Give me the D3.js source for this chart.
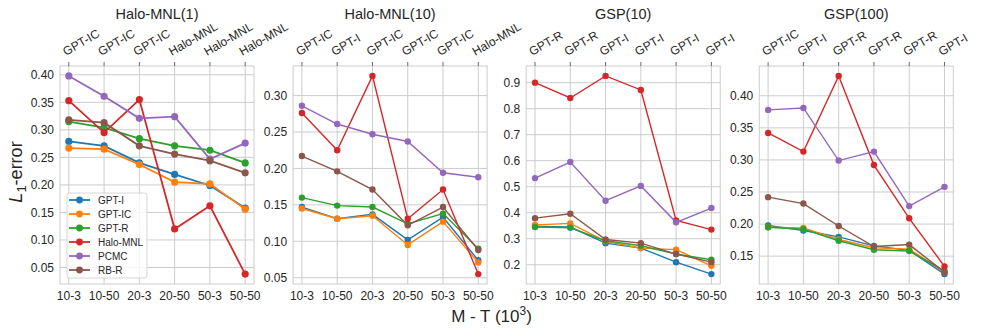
<!DOCTYPE html>
<meta charset="utf-8">
<html>
  <head>
    <script src="https://cdn.jsdelivr.net/npm/d3@7"></script>
    <style>
      body { margin: 0; background: #fff; }
      text { font-family: "Liberation Sans", Arial, sans-serif; fill: #262626; }
    </style>
  </head>
  <body>
    <div id="chart"></div>

    <script type="text/javascript">
      var categories = ["10-3", "10-50", "20-3", "20-50", "50-3", "50-50"],
          methods = ["GPT-I", "GPT-IC", "GPT-R", "Halo-MNL", "PCMC", "RB-R"],
          colors = ["#1f77b4", "#ff7f0e", "#2ca02c", "#d62728", "#9467bd", "#8c564b"],
          titles = ["Halo-MNL(1)", "Halo-MNL(10)", "GSP(10)", "GSP(100)"];

      // best model per column, shown on the top axis
      var topHalo1 = ["GPT-IC", "GPT-IC", "GPT-IC", "Halo-MNL", "Halo-MNL", "Halo-MNL"],
          topHalo10 = ["GPT-IC", "GPT-I", "GPT-IC", "GPT-IC", "GPT-IC", "Halo-MNL"],
          topGsp10 = ["GPT-R", "GPT-R", "GPT-I", "GPT-I", "GPT-I", "GPT-I"],
          topGsp100 = ["GPT-IC", "GPT-I", "GPT-R", "GPT-R", "GPT-R", "GPT-I"];

      // rows follow "methods"
      var halo1 = [
        [0.279, 0.271, 0.240, 0.219, 0.199, 0.158],
        [0.267, 0.265, 0.237, 0.205, 0.202, 0.156],
        [0.315, 0.304, 0.284, 0.271, 0.263, 0.240],
        [0.353, 0.295, 0.355, 0.120, 0.162, 0.038],
        [0.398, 0.361, 0.321, 0.324, 0.247, 0.276],
        [0.318, 0.313, 0.271, 0.256, 0.244, 0.222]
      ];
      var halo10 = [
        [0.147, 0.131, 0.137, 0.102, 0.133, 0.074],
        [0.145, 0.131, 0.135, 0.095, 0.127, 0.071],
        [0.160, 0.149, 0.147, 0.124, 0.138, 0.090],
        [0.276, 0.225, 0.327, 0.131, 0.171, 0.055],
        [0.286, 0.261, 0.247, 0.237, 0.194, 0.188],
        [0.217, 0.196, 0.171, 0.122, 0.147, 0.088]
      ];
      var gsp10 = [
        [0.347, 0.345, 0.283, 0.264, 0.210, 0.164],
        [0.353, 0.359, 0.290, 0.264, 0.258, 0.196],
        [0.345, 0.342, 0.292, 0.273, 0.241, 0.219],
        [0.900, 0.841, 0.926, 0.872, 0.370, 0.335],
        [0.533, 0.595, 0.446, 0.503, 0.363, 0.418],
        [0.379, 0.396, 0.297, 0.283, 0.241, 0.210]
      ];
      var gsp100 = [
        [0.198, 0.190, 0.180, 0.166, 0.159, 0.122],
        [0.195, 0.194, 0.176, 0.163, 0.161, 0.125],
        [0.195, 0.192, 0.174, 0.160, 0.158, 0.127],
        [0.342, 0.313, 0.431, 0.292, 0.209, 0.134],
        [0.378, 0.381, 0.299, 0.313, 0.228, 0.258],
        [0.242, 0.232, 0.197, 0.165, 0.168, 0.125]
      ];

      var ticksHalo1 = [0.05, 0.10, 0.15, 0.20, 0.25, 0.30, 0.35, 0.40],
          ticksHalo10 = [0.05, 0.10, 0.15, 0.20, 0.25, 0.30],
          ticksGsp10 = [0.2, 0.3, 0.4, 0.5, 0.6, 0.7, 0.8, 0.9],
          ticksGsp100 = [0.15, 0.20, 0.25, 0.30, 0.35, 0.40];

      var panels = [
        { title: titles[0], data: halo1, top: topHalo1, ticks: ticksHalo1, fmt: ".2f", lw: 1.8, r: 3.6 },
        { title: titles[1], data: halo10, top: topHalo10, ticks: ticksHalo10, fmt: ".2f", lw: 1.4, r: 3.2 },
        { title: titles[2], data: gsp10, top: topGsp10, ticks: ticksGsp10, fmt: ".1f", lw: 1.4, r: 3.2 },
        { title: titles[3], data: gsp100, top: topGsp100, ticks: ticksGsp100, fmt: ".2f", lw: 1.4, r: 3.2 }
      ];

      var W = 983, H = 335,
          plotTop = 66, plotBottom = 284,
          plotW = 194, firstLeft = 60, step = 233.1;

      var svg = d3.select("#chart").append("svg")
          .attr("width", W)
          .attr("height", H);

      panels.forEach(function(p, pi){
        var left = firstLeft + pi * step;
        var g = svg.append("g").attr("transform", "translate(" + left + ",0)");

        var x = d3.scaleLinear().domain([-0.25, 5.25]).range([0, plotW]);
        var all = d3.merge(p.data);
        var ext = d3.extent(all), pad = (ext[1] - ext[0]) * 0.05;
        var y = d3.scaleLinear().domain([ext[0] - pad, ext[1] + pad]).range([plotBottom, plotTop]);

        // grid
        g.selectAll(".vgrid").data(categories).enter().append("line")
            .attr("x1", function(d, i){ return x(i); })
            .attr("x2", function(d, i){ return x(i); })
            .attr("y1", plotTop).attr("y2", plotBottom)
            .style("stroke", "#cccccc").style("stroke-width", 1);
        g.selectAll(".hgrid").data(p.ticks).enter().append("line")
            .attr("x1", 0).attr("x2", plotW)
            .attr("y1", function(d){ return y(d); })
            .attr("y2", function(d){ return y(d); })
            .style("stroke", "#cccccc").style("stroke-width", 1);

        g.append("rect")
            .attr("x", 0).attr("y", plotTop)
            .attr("width", plotW).attr("height", plotBottom - plotTop)
            .style("fill", "none").style("stroke", "#cccccc").style("stroke-width", 1);

        // y tick labels
        g.selectAll(".ylab").data(p.ticks).enter().append("text")
            .attr("x", -6)
            .attr("y", function(d){ return y(d); })
            .attr("dy", "0.35em")
            .style("text-anchor", "end")
            .style("font-size", "12px")
            .text(function(d){ return d3.format(p.fmt)(d); });

        // bottom tick labels
        g.selectAll(".xlab").data(categories).enter().append("text")
            .attr("x", function(d, i){ return x(i); })
            .attr("y", plotBottom + 16)
            .style("text-anchor", "middle")
            .style("font-size", "12px")
            .text(function(d){ return d; });

        // top ticks and rotated labels
        g.selectAll(".ttick").data(p.top).enter().append("line")
            .attr("x1", function(d, i){ return x(i); })
            .attr("x2", function(d, i){ return x(i); })
            .attr("y1", plotTop - 4).attr("y2", plotTop)
            .style("stroke", "#444").style("stroke-width", 0.8);
        g.selectAll(".tlab").data(p.top).enter().append("text")
            .attr("transform", function(d, i){ return "translate(" + (x(i) - 3) + "," + (plotTop - 10) + ") rotate(-30)"; })
            .style("text-anchor", "start")
            .style("font-size", "12px")
            .text(function(d){ return d; });

        // title
        g.append("text")
            .attr("x", plotW / 2).attr("y", 19)
            .style("text-anchor", "middle")
            .style("font-size", "14.5px")
            .text(p.title);

        // series
        var line = d3.line()
            .x(function(d, i){ return x(i); })
            .y(function(d){ return y(d); });

        p.data.forEach(function(vals, mi){
          g.append("path")
              .datum(vals)
              .attr("d", line)
              .style("fill", "none")
              .style("stroke", colors[mi])
              .style("stroke-width", p.lw);
          g.selectAll(".pt" + mi).data(vals).enter().append("circle")
              .attr("cx", function(d, i){ return x(i); })
              .attr("cy", function(d){ return y(d); })
              .attr("r", p.r)
              .style("fill", colors[mi]);
        });

        // legend in first panel
        if (pi == 0) {
          var lg = g.append("g").attr("transform", "translate(" + 7 + "," + 193 + ")");
          lg.append("rect")
              .attr("width", 80).attr("height", 85)
              .attr("rx", 2.5)
              .style("fill", "#ffffff").style("fill-opacity", 0.8)
              .style("stroke", "#cccccc").style("stroke-width", 0.8);
          methods.forEach(function(m, mi){
            var yy = 7 + mi * 14;
            lg.append("line")
                .attr("x1", 2).attr("x2", 23)
                .attr("y1", yy).attr("y2", yy)
                .style("stroke", colors[mi]).style("stroke-width", 1.8);
            lg.append("circle")
                .attr("cx", 12.5).attr("cy", yy).attr("r", 3.4)
                .style("fill", colors[mi]);
            lg.append("text")
                .attr("x", 31).attr("y", yy).attr("dy", "0.35em")
                .style("font-size", "10px")
                .text(m);
          });
        }
      });

      // axis labels
      var yl = svg.append("text")
          .attr("transform", "translate(22,172) rotate(-90)")
          .style("text-anchor", "middle")
          .style("font-size", "18px");
      yl.append("tspan").style("font-style", "italic").text("L");
      yl.append("tspan").attr("dy", 4).style("font-size", "13px").text("1");
      yl.append("tspan").attr("dy", -4).text("-error");

      var xl = svg.append("text")
          .attr("x", 491.5).attr("y", 322)
          .style("text-anchor", "middle")
          .style("font-size", "17px");
      xl.append("tspan").text("M - T (10");
      xl.append("tspan").attr("dy", -7).style("font-size", "12px").text("3");
      xl.append("tspan").attr("dy", 7).text(")");
    </script>
  </body>
</html>
